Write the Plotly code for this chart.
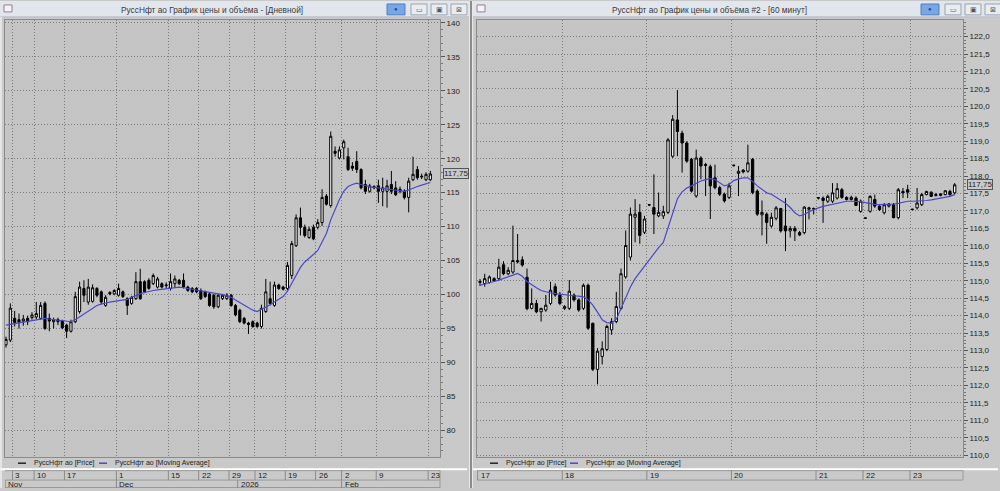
import plotly.graph_objects as go

W, H = 1000, 491
def PX(x): return x / W
def PY(y): return 1 - y / H

# ---------------- Left panel: daily ----------------
L_open = [92.6,93.3,96.5,96.3,96.1,96.5,96.6,96.7,96.5,98.7,
          96.5,96.0,96.3,96.1,95.5,94.6,96.0,97.5,100.9,98.9,
          99.0,100.9,100.4,98.4,100.3,100.1,99.9,100.4,99.4,98.7,
          99.4,101.9,101.9,102.1,101.6,101.1,101.6,101.3,100.9,101.6,
          102.1,102.1,101.1,100.9,100.9,100.6,100.4,100.1,99.9,98.2,
          99.4,99.4,99.9,98.4,97.7,96.5,95.8,96.0,95.8,95.3,
          97.5,99.4,98.4,101.4,101.1,100.9,102.8,107.2,111.3,109.9,
          108.4,109.9,109.9,110.6,114.5,113.1,121.1,120.1,121.6,120.3,
          118.9,119.6,118.4,116.2,115.2,115.7,116.0,115.2,115.2,116.2,
          115.7,115.5,115.2,114.3,116.9,118.4,117.3,116.9,116.9]
L_high = [93.8,98.7,97.6,97.2,97.0,96.9,97.4,98.9,98.9,99.0,
          97.2,96.6,96.6,96.3,95.7,96.3,100.4,101.9,102.1,102.3,
          101.5,101.1,100.6,99.9,100.5,100.8,101.6,100.6,99.6,99.8,
          103.3,103.8,102.1,102.4,103.1,102.6,101.8,101.8,103.1,102.8,
          102.3,103.1,101.3,101.1,101.1,100.9,100.6,100.3,100.1,100.1,
          100.1,100.2,100.1,98.6,97.9,96.7,96.0,96.2,96.0,98.5,
          102.3,101.9,101.9,101.6,101.3,104.8,107.9,111.8,112.8,110.3,
          110.0,110.3,111.1,115.5,114.8,124.0,121.8,121.8,122.8,121.6,
          119.5,121.1,118.6,116.9,116.3,116.1,116.9,117.2,116.9,118.2,
          116.7,115.9,115.5,117.2,120.3,118.9,117.8,118.0,118.2]
L_low = [92.2,93.0,95.3,95.0,95.4,95.5,96.3,96.4,96.3,94.8,
         94.6,95.0,95.5,94.9,93.6,94.4,95.8,97.2,98.9,98.5,
         98.8,99.6,98.6,98.2,99.9,99.9,99.7,99.5,97.0,98.5,
         99.2,99.2,100.2,100.7,101.4,100.9,100.9,100.9,100.6,101.1,
         101.4,100.9,100.4,100.2,100.2,99.2,99.5,98.2,97.9,98.0,
         99.2,99.2,98.2,96.8,95.8,95.6,94.2,95.1,95.1,95.0,
         97.3,98.4,98.2,100.7,100.6,100.6,102.3,107.0,108.7,108.4,
         108.2,108.0,109.6,110.1,113.1,112.8,120.3,119.9,119.9,118.2,
         118.2,117.9,115.5,114.8,115.0,115.5,113.5,113.0,112.8,114.8,
         114.5,114.9,114.0,112.1,116.7,116.9,117.0,116.7,116.7]
L_close = [93.4,98.0,95.9,95.9,96.4,96.0,97.0,97.2,98.4,95.0,
           96.1,96.3,96.0,95.1,94.6,96.0,99.7,101.1,99.9,101.1,
           101.0,99.9,98.9,99.6,100.1,100.6,100.9,99.7,98.4,99.6,
           101.9,99.4,100.4,100.9,102.8,102.3,101.1,101.4,101.9,102.3,
           101.6,101.1,100.6,100.4,100.4,99.4,99.7,98.4,98.2,99.9,
           99.9,99.9,98.4,97.0,96.0,95.8,95.6,95.3,95.3,98.0,
           100.4,98.7,101.4,100.9,100.8,104.3,107.5,111.3,109.9,108.7,
           109.6,108.2,110.6,114.3,113.3,123.3,120.8,121.3,122.5,118.4,
           118.6,118.4,115.7,115.2,116.0,115.9,115.2,115.7,116.0,115.2,
           114.7,115.2,114.3,116.7,117.7,117.2,117.4,117.7,117.75]
L_ma = [95.5,95.6,95.7,95.8,95.9,96.0,96.2,96.3,96.4,96.5,
        96.4,96.3,96.2,96.1,96.0,96.0,96.3,96.7,97.2,97.6,
        98.0,98.4,98.6,98.8,98.9,99.0,99.1,99.2,99.3,99.6,
        99.9,100.1,100.3,100.5,100.6,100.7,100.8,100.9,101.0,101.1,
        101.1,101.0,100.9,100.8,100.7,100.6,100.5,100.4,100.3,100.1,
        100.0,99.8,99.6,99.2,98.8,98.4,98.0,97.7,97.5,97.8,
        98.1,98.5,98.9,99.3,99.7,100.5,101.6,102.9,104.0,104.8,
        105.3,105.9,106.5,107.7,109.0,111.0,112.6,114.0,115.2,115.9,
        116.2,116.4,116.2,116.0,115.9,115.8,115.7,115.6,115.5,115.5,
        115.4,115.3,115.2,115.4,115.7,115.9,116.1,116.3,116.5]
L_day_pos = [1.5, 6.5, 13.5, 25.5, 37.5, 44.5, 51.5, 57.5, 64.5, 71.5, 77.5, 85.5, 97.5]
L_day_lbl = ["3", "10", "17", "1", "15", "22", "29", "12", "19", "26", "2", "9", "23"]
L_mon_pos = [-0.2, 25.5, 53.5, 77.5]
L_mon_lbl = ["Nov", "Dec", "2026", "Feb"]
L_yticks = [80, 85, 90, 95, 100, 105, 110, 115, 120, 125, 130, 135, 140]

# ---------------- Right panel: 60 minutes ----------------
R_open = [114.95,114.92,114.95,115.06,115.06,115.46,115.2,115.25,115.58,115.6,
          115.1,114.21,114.35,114.11,114.16,114.35,114.83,114.59,114.21,114.21,
          114.59,114.45,114.21,114.87,113.78,112.46,112.83,113.03,113.59,113.83,
          114.21,115.11,115.68,116.82,116.96,116.39,117.17,117.1,116.86,116.86,
          116.96,118.57,119.61,119.23,118.95,118.48,117.43,118.52,118.33,118.27,
          117.95,117.67,117.48,117.39,118.3,118.08,118.17,118.14,118.48,117.57,
          116.89,116.91,116.57,116.79,117.07,116.57,116.43,116.5,116.38,116.38,
          117.05,117.05,117.37,117.37,117.28,117.28,117.37,117.61,117.39,117.33,
          117.37,116.99,116.79,116.99,117.33,117.14,116.95,117.14,117.18,116.81,
          117.56,117.61,117.04,117.09,117.18,117.47,117.54,117.44,117.49,117.47,
          117.56,117.52]
R_high = [115.05,115.2,115.15,115.1,115.63,115.56,115.39,116.58,116.34,115.7,
          115.35,114.78,114.45,114.22,114.59,114.97,114.92,114.68,114.3,115.02,
          114.64,114.49,114.92,114.92,113.8,113.07,113.26,113.74,113.93,114.68,
          115.35,116.44,117.1,117.34,117.2,116.86,117.2,118.05,117.53,117.15,
          119.09,119.75,120.47,119.3,119.0,118.52,118.76,118.57,118.38,118.33,
          118.33,117.72,117.53,117.81,118.33,118.29,118.2,118.9,118.52,117.62,
          117.3,116.96,116.95,117.14,117.09,117.37,116.57,116.57,116.43,117.14,
          117.12,117.1,117.4,117.42,117.47,117.8,117.8,117.66,117.42,117.44,
          117.42,117.33,116.8,117.45,117.47,117.16,117.23,117.23,117.23,117.66,
          117.66,117.75,117.06,117.66,117.52,117.58,117.56,117.52,117.51,117.6,
          117.61,117.8]
R_low = [114.85,114.83,114.92,114.97,115.0,115.16,115.16,115.2,115.5,115.4,
         114.15,114.18,114.07,113.83,114.11,114.3,114.54,114.3,114.16,114.16,
         114.4,114.11,114.16,113.59,112.41,112.03,112.6,112.98,113.45,113.78,
         114.16,115.06,115.58,116.1,116.06,116.34,117.14,116.34,116.82,116.77,
         116.91,118.52,118.57,118.1,118.38,117.53,117.38,117.91,117.43,116.77,
         117.62,117.43,117.24,117.34,118.27,117.43,118.08,118.1,117.48,116.86,
         116.3,116.06,116.52,116.73,116.38,115.85,116.24,116.14,116.28,116.33,
         116.76,116.9,117.33,116.66,117.23,117.23,117.33,117.35,117.3,117.3,
         117.14,116.95,116.77,116.95,117.09,117.0,116.9,117.1,116.79,116.76,
         117.37,117.37,117.02,117.04,117.14,117.45,117.4,117.42,117.42,117.45,
         117.42,117.47]
R_close = [114.98,115.06,115.11,115.0,115.39,115.2,115.3,115.58,115.54,115.45,
           114.2,114.35,114.11,114.21,114.3,114.73,114.59,114.35,114.26,114.7,
           114.45,114.16,114.87,113.64,112.46,112.98,113.05,113.69,113.83,114.26,
           115.2,116.01,116.91,116.91,116.3,116.77,117.18,116.91,116.96,116.98,
           119.04,119.63,119.28,118.95,118.43,117.57,118.52,118.29,118.31,117.72,
           117.67,117.48,117.29,117.72,118.31,118.14,118.12,118.38,117.53,116.91,
           116.96,116.67,116.82,117.09,116.43,116.43,116.5,116.43,116.31,117.11,
           117.09,117.07,117.38,117.3,117.42,117.52,117.64,117.39,117.33,117.39,
           117.16,117.28,116.8,117.42,117.14,117.04,117.18,117.2,116.81,117.61,
           117.52,117.54,117.05,117.23,117.47,117.56,117.42,117.47,117.45,117.58,
           117.47,117.75]
R_ma = [114.87,114.9,114.94,114.98,115.02,115.06,115.1,115.16,115.21,115.13,
        114.98,114.88,114.8,114.72,114.68,114.65,114.63,114.61,114.59,114.58,
        114.57,114.56,114.54,114.45,114.3,114.1,113.88,113.8,113.78,113.9,
        114.2,114.52,114.82,115.06,115.24,115.42,115.58,115.78,115.95,116.1,
        116.5,116.95,117.35,117.55,117.66,117.72,117.8,117.86,117.9,117.93,
        117.9,117.82,117.72,117.76,117.87,117.92,117.95,117.95,117.85,117.72,
        117.62,117.52,117.48,117.4,117.3,117.22,117.1,116.95,116.86,116.9,
        116.98,117.04,117.09,117.13,117.16,117.2,117.23,117.26,117.28,117.28,
        117.28,117.27,117.24,117.21,117.19,117.18,117.18,117.19,117.2,117.22,
        117.26,117.28,117.28,117.28,117.29,117.3,117.32,117.34,117.36,117.38,
        117.42,117.47]
R_day_pos = [-0.5, 17.5, 35.5, 53.5, 71.5, 81.5, 91.5]
R_day_lbl = ["17", "18", "19", "20", "21", "22", "23"]
R_yticks = [110.0 + 0.5 * k for k in range(25)]

LAST = 117.75
TITLE_L = "РуссНфт ао График цены и объёма - [Дневной]"
TITLE_R = "РуссНфт ао График цены и объёма #2 - [60 минут]"
LEG_PRICE = "РуссНфт ао [Price]"
LEG_MA = "РуссНфт ао [Moving Average]"

MA_COLOR = "#4a48c8"
GRID = "#7c7c7c"
PLOT_BG = "#c5c5c5"
PANEL_BG = "#c9c9c9"
FONT = "Liberation Sans"

fig = go.Figure()

def add_panel(o, h, l, c, ma, xa, ya):
    xs = list(range(len(o)))
    fig.add_trace(go.Candlestick(
        x=xs, open=o, high=h, low=l, close=c, xaxis=xa, yaxis=ya,
        increasing=dict(line=dict(color="#000000", width=1), fillcolor="#ffffff"),
        decreasing=dict(line=dict(color="#000000", width=1), fillcolor="#000000"),
        whiskerwidth=0, showlegend=False, hoverinfo="skip"))
    fig.add_trace(go.Scatter(
        x=xs, y=ma, mode="lines", xaxis=xa, yaxis=ya,
        line=dict(color=MA_COLOR, width=1.2), showlegend=False, hoverinfo="skip"))

add_panel(L_open, L_high, L_low, L_close, L_ma, "x", "y")
add_panel(R_open, R_high, R_low, R_close, R_ma, "x2", "y2")

# geometry (pixels)
LX0, LX1 = 5, 440
RX0, RX1 = 477, 963
PY0, PY1 = 19, 460

axis_common = dict(showgrid=True, gridcolor=GRID, griddash="1px,2px", gridwidth=1,
                   showline=True, linecolor="#8a8a8a", linewidth=1, mirror=True,
                   zeroline=False, fixedrange=True)

fig.update_layout(
    width=W, height=H, margin=dict(l=0, r=0, t=0, b=0),
    paper_bgcolor=PANEL_BG, plot_bgcolor=PLOT_BG,
    separators=", ", showlegend=False,
    font=dict(family=FONT, size=8, color="#222222"),
    xaxis=dict(domain=[PX(LX0), PX(LX1)], range=[-0.23, 100.23],
               tickvals=L_day_pos, showticklabels=False, ticks="",
               rangeslider=dict(visible=False), anchor="y", **axis_common),
    yaxis=dict(domain=[PY(PY1), PY(PY0)], range=[76.05, 140.44], side="right",
               tickvals=L_yticks, ticks="outside", ticklen=4, tickcolor="#555555",
               tickfont=dict(size=8, family=FONT, color="#222222"),
               minor=dict(dtick=1, ticks="outside", ticklen=2, tickcolor="#777777", showgrid=False),
               anchor="x", **axis_common),
    xaxis2=dict(domain=[PX(RX0), PX(RX1)], range=[-0.64, 102.77],
                tickvals=R_day_pos, showticklabels=False, ticks="",
                rangeslider=dict(visible=False), anchor="y2", **axis_common),
    yaxis2=dict(domain=[PY(PY1), PY(PY0)], range=[109.94, 122.48], side="right",
                tickvals=R_yticks, tickformat=".1f", ticks="outside", ticklen=4,
                tickcolor="#555555", tickfont=dict(size=8, family=FONT, color="#222222"),
                minor=dict(dtick=0.1, ticks="outside", ticklen=2, tickcolor="#777777", showgrid=False),
                anchor="x2", **axis_common),
)

shapes = []
annots = []

def rect(x0, y0, x1, y1, fill, line=None, lw=1):
    shapes.append(dict(type="rect", xref="paper", yref="paper", layer="below",
                       x0=PX(x0), x1=PX(x1), y0=PY(y1), y1=PY(y0),
                       fillcolor=fill, line=dict(color=line or fill, width=lw if line else 0)))

def hline(x0, x1, y, color, w=1, layer="above"):
    shapes.append(dict(type="line", xref="paper", yref="paper", layer=layer,
                       x0=PX(x0), x1=PX(x1), y0=PY(y), y1=PY(y), line=dict(color=color, width=w)))

def vline(x, y0, y1, color, w=1, layer="above"):
    shapes.append(dict(type="line", xref="paper", yref="paper", layer=layer,
                       x0=PX(x), x1=PX(x), y0=PY(y0), y1=PY(y1), line=dict(color=color, width=w)))

def text(x, y, s, size=8, color="#222222", xanchor="left", family=FONT, **kw):
    annots.append(dict(xref="paper", yref="paper", x=PX(x), y=PY(y), text=s, showarrow=False,
                       xanchor=xanchor, yanchor="middle", font=dict(size=size, color=color, family=family), **kw))

# window chrome
for (wx0, wx1, title, tcx, pin) in [(0, 469, TITLE_L, 212, 387), (473, 1000, TITLE_R, 709, 921)]:
    rect(wx0, 0, wx1, 16, "#e1e6ed")
    hline(wx0, wx1, 16, "#b8bec6")
    rect(wx0 + 4, 4, wx0 + 12, 11, "#f4f4f4", "#9a7a9a")
    text(tcx, 9, title, size=8.3, color="#3a3a3a", xanchor="center")
    rect(pin, 3, pin + 18, 14, "#79a7e6", "#4f7fc4")
    text(pin + 9, 8.5, "&#9679;", size=6, color="#234a86", xanchor="center")
    for bx in [pin + 24, pin + 44, pin + 64]:
        rect(bx, 3, bx + 16, 14, "#e9edf2", "#9aa3ad")
    text(pin + 32, 8.5, "▭", size=7, color="#555555", xanchor="center")
    text(pin + 52, 8.5, "▣", size=7, color="#555555", xanchor="center")
    text(pin + 72, 8.5, "⊠", size=7, color="#555555", xanchor="center")
    hline(wx0, wx1 - 2, 472, "#ffffff", 2)

# divider between windows
rect(469, 0, 473, 491, "#e8e8e8")
vline(471, 0, 491, "#6e6e6e", 1.5)
vline(1, 16, 491, "#eeeeee", 1.5)

# date strip boxes
for (x0, x1) in [(LX0, LX1), (RX0, RX1)]:
    hline(x0, x1, 473.5, "#9a9a9a")
    hline(x0, x1, 483, "#9a9a9a")
hline(LX0, LX1, 490.5, "#9a9a9a")
vline(LX1, 473, 491, "#9a9a9a")
vline(RX1, 473, 483, "#9a9a9a")

for pos, lab in zip(L_day_pos, L_day_lbl):
    shapes.append(dict(type="line", xref="x", yref="paper", x0=pos, x1=pos,
                       y0=PY(483), y1=PY(473.5), line=dict(color="#8a8a8a", width=1)))
    annots.append(dict(xref="x", yref="paper", x=pos, y=PY(478.5), text=lab, showarrow=False,
                       xanchor="left", yanchor="middle", xshift=1, font=dict(size=8, family=FONT, color="#222222")))
for pos, lab in zip(L_mon_pos, L_mon_lbl):
    shapes.append(dict(type="line", xref="x", yref="paper", x0=pos, x1=pos,
                       y0=PY(491), y1=PY(483), line=dict(color="#8a8a8a", width=1)))
    annots.append(dict(xref="x", yref="paper", x=pos, y=PY(487), text=lab, showarrow=False,
                       xanchor="left", yanchor="middle", xshift=1, font=dict(size=8, family=FONT, color="#222222")))
for pos, lab in zip(R_day_pos, R_day_lbl):
    shapes.append(dict(type="line", xref="x2", yref="paper", x0=pos, x1=pos,
                       y0=PY(483), y1=PY(473.5), line=dict(color="#8a8a8a", width=1)))
    annots.append(dict(xref="x2", yref="paper", x=pos, y=PY(478.5), text=lab, showarrow=False,
                       xanchor="left", yanchor="middle", xshift=1, font=dict(size=8, family=FONT, color="#222222")))

# legends
for (lx, mx) in [(18, 99), (490, 570)]:
    hline(lx, lx + 8, 466, "#222222", 1.5)
    text(lx + 14, 466, LEG_PRICE, size=7)
    hline(mx, mx + 8, 466, MA_COLOR, 1.5)
    text(mx + 14, 466, LEG_MA, size=7)

# last price boxes
annots.append(dict(xref="paper", yref="y", x=PX(443), y=LAST, text="117,75", showarrow=False,
                   xanchor="left", yanchor="middle", bordercolor="#555555", borderwidth=1, borderpad=0,
                   font=dict(size=8, family=FONT, color="#222222")))
annots.append(dict(xref="paper", yref="y2", x=PX(967), y=LAST, text="117,75", showarrow=False,
                   xanchor="left", yanchor="middle", bordercolor="#555555", borderwidth=1, borderpad=0,
                   bgcolor=PANEL_BG, font=dict(size=8, family=FONT, color="#222222")))

fig.update_layout(shapes=shapes, annotations=annots)
fig.write_html("out.html")
